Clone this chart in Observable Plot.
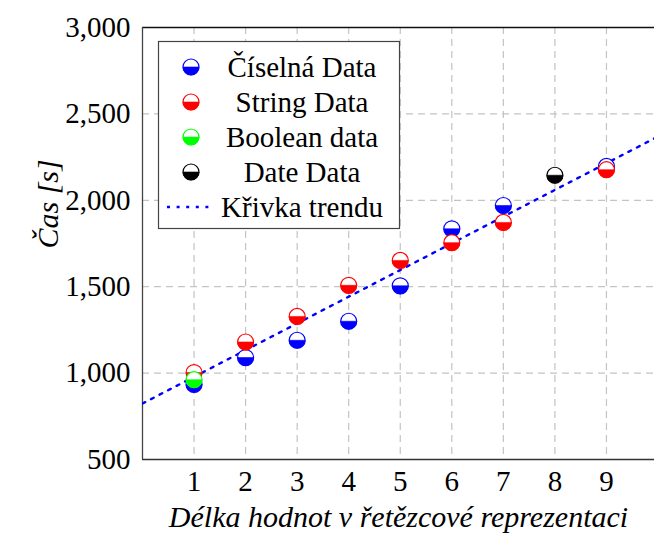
<!DOCTYPE html>
<html>
<head>
<meta charset="utf-8">
<script src="https://cdn.jsdelivr.net/npm/d3@7"></script>
<script src="https://cdn.jsdelivr.net/npm/@observablehq/plot@0.6"></script>
<style>
  html, body { margin: 0; padding: 0; background: #fff; overflow: hidden; }
  #chart { position: relative; width: 654px; height: 539px; }
</style>
</head>
<body>
<div id="chart"></div>
<script>
// ---- data ----
const ciselnaX = [1, 2, 3, 4, 5, 6, 7, 9];
const ciselnaY = [935, 1090, 1190, 1300, 1505, 1835, 1970, 2196];
const stringX  = [1, 2, 3, 4, 5, 6, 7, 9];
const stringY  = [1003, 1180, 1328, 1508, 1652, 1755, 1872, 2177];
const booleanX = [1];
const booleanY = [962];
const dateX    = [8];
const dateY    = [2145];
const trendX   = [0, 10];
const trendY   = [824, 2369];
const xTicks   = [1, 2, 3, 4, 5, 6, 7, 8, 9];
const yTicks   = [500, 1000, 1500, 2000, 2500, 3000];
const seriesNames  = ["Číselná Data", "String Data", "Boolean data", "Date Data"];
const seriesColors = ["#0000ff", "#ff0000", "#00ff00", "#000000"];
const trendName = "Křivka trendu";
const xLabel = "Délka hodnot v řetězcové reprezentaci";
const yLabel = "Čas [s]";

const series = [
  {x: ciselnaX, y: ciselnaY},
  {x: stringX, y: stringY},
  {x: booleanX, y: booleanY},
  {x: dateX, y: dateY}
].map((s, i) => ({name: seriesNames[i], color: seriesColors[i],
  rows: s.x.map((x, j) => ({x, y: s.y[j]}))}));
const trendRows = trendX.map((x, i) => ({x, y: trendY[i]}));

// lower half-disc symbol (pgfplots "halfcircle*")
const lowerHalf = {
  draw(ctx, size) {
    const r = Math.sqrt(size / Math.PI);
    ctx.moveTo(r, 0);
    ctx.arc(0, 0, r, 0, Math.PI);
    ctx.closePath();
  }
};

const FONT = "'Liberation Serif', 'DejaVu Serif', serif";
const R = 8;
const DOTS = "3,6.6";

const marks = [];
// grid
marks.push(Plot.ruleX(xTicks, {stroke: "#c4c4c4", strokeWidth: 1.2, strokeDasharray: "7,5", strokeOpacity: 1}));
marks.push(Plot.ruleY(yTicks.slice(1, -1), {stroke: "#c4c4c4", strokeWidth: 1.2, strokeDasharray: "7,5", strokeOpacity: 1}));
// frame (left, top, bottom)
marks.push(Plot.ruleY([500], {stroke: "#333", strokeWidth: 1.3}));
marks.push(Plot.ruleY([3000], {stroke: "#111", strokeWidth: 1.3}));
marks.push(Plot.ruleX([0], {stroke: "#444", strokeWidth: 1.3}));
// trend
marks.push(Plot.line(trendRows, {x: "x", y: "y", stroke: "#0000ff", strokeWidth: 2.4, strokeDasharray: DOTS, clip: true}));
// series markers
for (const s of series) {
  marks.push(Plot.dot(s.rows, {x: "x", y: "y", r: R, fill: "white", stroke: s.color, strokeWidth: 1.2}));
  marks.push(Plot.dot(s.rows, {x: "x", y: "y", r: R, symbol: lowerHalf, fill: s.color, stroke: s.color, strokeWidth: 0.6}));
}
// axes
marks.push(Plot.axisX(xTicks, {tickSize: 0, tickPadding: 11, fontSize: 29}));
marks.push(Plot.axisY(yTicks, {tickSize: 0, tickPadding: 12, fontSize: 29, tickFormat: d3.format(",")}));
// axis labels
marks.push(Plot.text([xLabel], {frameAnchor: "bottom", dy: 67, fontSize: 30, fontStyle: "italic", fill: "black"}));
marks.push(Plot.text([yLabel], {frameAnchor: "left", dx: -94, dy: 5, rotate: -90, fontSize: 30, fontStyle: "italic", fill: "black"}));

const chart = Plot.plot({
  width: 654,
  height: 539,
  marginLeft: 142,
  marginRight: 0,
  marginTop: 27,
  marginBottom: 80,
  style: {fontFamily: FONT, fontSize: "29px", color: "black", background: "white", overflow: "visible"},
  x: {domain: [0, 9.932], label: null},
  y: {domain: [500, 3000], label: null},
  marks
});
document.getElementById("chart").appendChild(chart);

// legend drawn inside the svg
const svg = d3.select(chart);
const lg = svg.append("g").attr("font-family", FONT).attr("font-size", 29);
lg.append("rect").attr("x", 158.5).attr("y", 41.5).attr("width", 241).attr("height", 187)
  .attr("fill", "white").attr("stroke", "#444").attr("stroke-width", 1.2);
const rowY = [67, 102, 137, 172];
const halfPath = d3.symbol(lowerHalf, Math.PI * R * R)();
series.forEach((s, i) => {
  const g = lg.append("g").attr("transform", `translate(191,${rowY[i]})`);
  g.append("circle").attr("r", R).attr("fill", "white").attr("stroke", s.color).attr("stroke-width", 1.2);
  g.append("path").attr("d", halfPath).attr("fill", s.color).attr("stroke", s.color).attr("stroke-width", 0.6);
  lg.append("text").attr("x", 302).attr("y", rowY[i]).attr("dy", "0.33em").attr("text-anchor", "middle").text(s.name);
});
lg.append("line").attr("x1", 167).attr("x2", 212).attr("y1", 207).attr("y2", 207)
  .attr("stroke", "#0000ff").attr("stroke-width", 2.4).attr("stroke-dasharray", DOTS);
lg.append("text").attr("x", 302).attr("y", 207).attr("dy", "0.33em").attr("text-anchor", "middle").text(trendName);
</script>
</body>
</html>
